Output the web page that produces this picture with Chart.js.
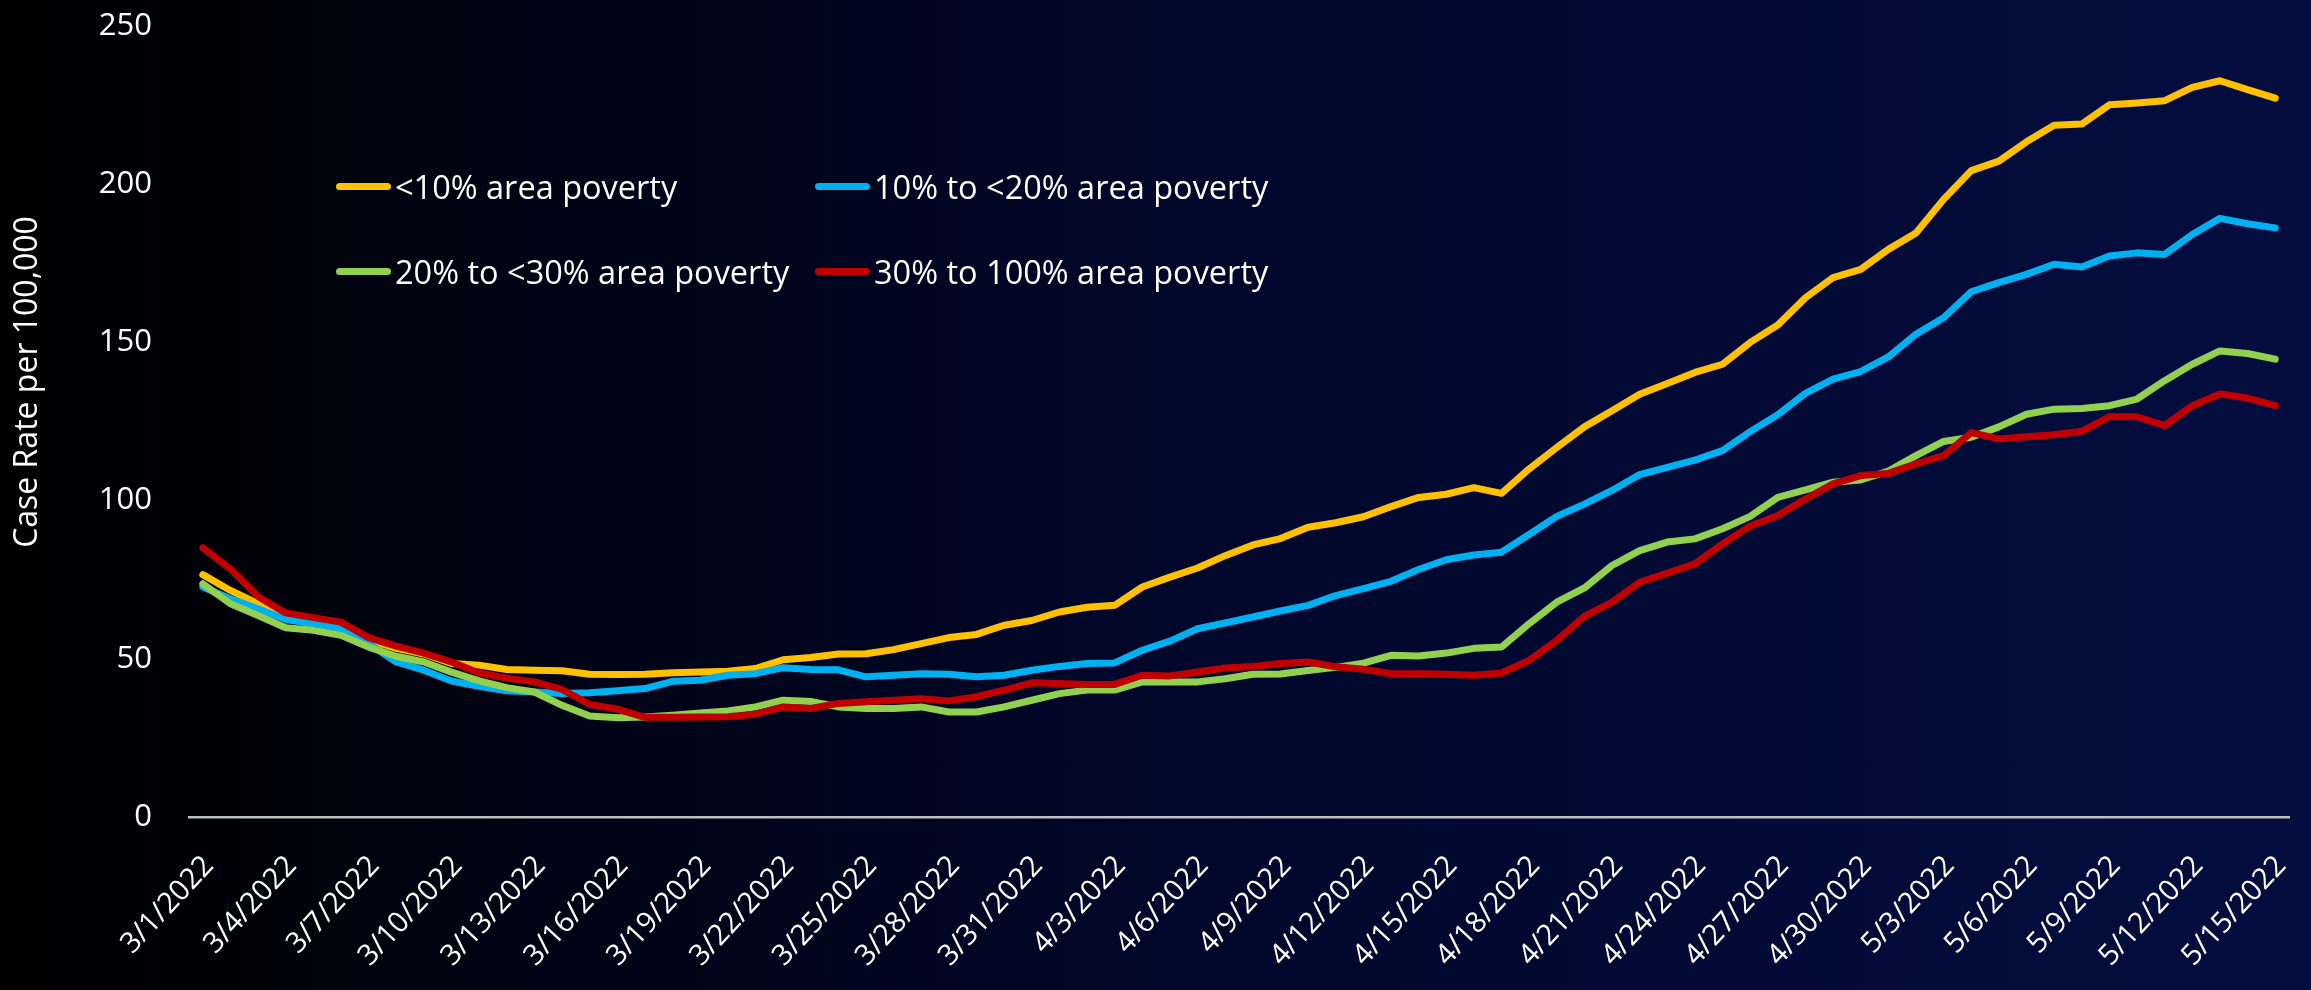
<!DOCTYPE html>
<html>
<head>
<meta charset="utf-8">
<script src="https://cdn.jsdelivr.net/npm/chart.js@4.4.1/dist/chart.umd.min.js"></script>
<style>
  html, body { margin: 0; padding: 0; }
  body {
    width: 2311px; height: 990px; overflow: hidden; position: relative;
    background: linear-gradient(90deg, #000000 0%, #01072a 50%, #040d3f 100%);
    font-family: "Open Sans", sans-serif;
  }
  #chart { position: absolute; left: 0; top: 0; }
  .legend-item { position: absolute; display: flex; align-items: center; color: #fff; font-size: 32.5px; white-space: nowrap; }
  .legend-item .swatch { width: 55px; height: 7px; border-radius: 4px; margin-right: 4px; }
</style>
</head>
<body>
<canvas id="chart" width="2311" height="990"></canvas>
<div id="legend"></div>
<script>
// Dates on the category axis
const dates = [
  '3/1/2022','3/2/2022','3/3/2022','3/4/2022','3/5/2022','3/6/2022','3/7/2022','3/8/2022','3/9/2022','3/10/2022',
  '3/11/2022','3/12/2022','3/13/2022','3/14/2022','3/15/2022','3/16/2022','3/17/2022','3/18/2022','3/19/2022','3/20/2022',
  '3/21/2022','3/22/2022','3/23/2022','3/24/2022','3/25/2022','3/26/2022','3/27/2022','3/28/2022','3/29/2022','3/30/2022',
  '3/31/2022','4/1/2022','4/2/2022','4/3/2022','4/4/2022','4/5/2022','4/6/2022','4/7/2022','4/8/2022','4/9/2022',
  '4/10/2022','4/11/2022','4/12/2022','4/13/2022','4/14/2022','4/15/2022','4/16/2022','4/17/2022','4/18/2022','4/19/2022',
  '4/20/2022','4/21/2022','4/22/2022','4/23/2022','4/24/2022','4/25/2022','4/26/2022','4/27/2022','4/28/2022','4/29/2022',
  '4/30/2022','5/1/2022','5/2/2022','5/3/2022','5/4/2022','5/5/2022','5/6/2022','5/7/2022','5/8/2022','5/9/2022',
  '5/10/2022','5/11/2022','5/12/2022','5/13/2022','5/14/2022','5/15/2022'
];

// Case rate per 100,000 by area poverty level
const under10 = [
  76.6, 71.6, 67.4, 63.5, 62.0, 60.3, 56.0, 53.3, 51.5, 48.5,
  48.0, 46.6, 46.4, 46.2, 45.1, 45.0, 45.1, 45.6, 45.8, 46.1,
  46.9, 49.7, 50.4, 51.5, 51.6, 52.9, 54.8, 56.7, 57.7, 60.6,
  62.1, 64.8, 66.3, 66.9, 72.7, 75.8, 78.7, 82.6, 86.0, 88.0,
  91.6, 93.0, 94.9, 98.1, 101.0, 102.0, 104.1, 102.3, 110.0, 116.8,
  123.3, 128.4, 133.6, 137.0, 140.5, 143.1, 150.0, 155.5, 164.1, 170.5,
  173.1, 179.4, 184.6, 195.2, 204.3, 207.3, 213.4, 218.6, 219.0, 225.1,
  225.7, 226.4, 230.6, 232.7, 229.9, 227.2
];
const from10to20 = [
  72.7, 69.0, 65.8, 62.4, 61.1, 59.5, 54.8, 49.0, 46.4, 43.0,
  41.3, 39.9, 39.5, 39.0, 39.3, 39.9, 40.6, 42.9, 43.2, 44.8,
  45.3, 47.2, 46.6, 46.5, 44.3, 44.8, 45.3, 45.1, 44.3, 44.8,
  46.4, 47.6, 48.5, 48.7, 52.7, 55.6, 59.5, 61.3, 63.2, 65.1,
  66.9, 70.0, 72.2, 74.5, 78.2, 81.3, 82.8, 83.7, 89.3, 95.0,
  98.9, 103.2, 108.2, 110.5, 112.8, 115.8, 121.8, 127.1, 133.9, 138.4,
  140.8, 145.4, 152.6, 157.8, 166.0, 168.9, 171.5, 174.7, 173.8, 177.3,
  178.3, 177.8, 184.1, 189.2, 187.5, 186.2
];
const from20to30 = [
  73.7, 67.4, 63.7, 59.8, 59.0, 57.4, 53.7, 50.8, 49.0, 45.8,
  43.0, 40.9, 39.5, 35.3, 31.9, 31.4, 31.6, 32.2, 32.9, 33.5,
  34.8, 36.9, 36.5, 34.8, 34.3, 34.3, 34.8, 33.2, 33.2, 34.8,
  36.9, 39.0, 40.1, 40.1, 42.7, 42.7, 42.7, 43.7, 45.1, 45.2,
  46.3, 47.3, 48.6, 51.1, 50.9, 51.8, 53.3, 53.7, 61.1, 67.9,
  72.4, 79.5, 84.2, 86.9, 87.9, 91.1, 95.0, 101.0, 103.4, 105.8,
  106.5, 109.3, 114.2, 118.7, 120.0, 123.3, 127.3, 128.9, 129.1, 130.0,
  132.1, 137.9, 143.1, 147.3, 146.5, 144.7
];
const from30to100 = [
  85.1, 78.4, 69.7, 64.5, 63.0, 61.6, 56.7, 54.0, 51.8, 49.0,
  45.5, 43.9, 42.7, 40.3, 35.6, 34.1, 31.5, 31.5, 31.6, 31.7,
  32.5, 34.8, 34.3, 35.9, 36.4, 36.9, 37.4, 36.7, 38.0, 40.1,
  42.4, 42.2, 41.9, 41.9, 44.8, 44.6, 45.8, 47.1, 47.6, 48.5,
  49.0, 47.5, 46.7, 45.3, 45.3, 45.1, 44.8, 45.5, 49.5, 55.8,
  63.4, 67.9, 74.2, 77.1, 80.0, 86.3, 92.0, 95.3, 100.5, 105.3,
  107.9, 108.6, 111.6, 114.2, 121.5, 119.5, 120.2, 120.8, 121.9, 126.5,
  126.5, 123.7, 130.0, 133.7, 132.4, 130.0
];

const seriesNames = ['<10% area poverty', '10% to <20% area poverty', '20% to <30% area poverty', '30% to 100% area poverty'];
const seriesColors = ['#FFC000', '#00B0F0', '#92D050', '#C00000'];
const yTicks = [0, 50, 100, 150, 200, 250];

const FONT = '"Open Sans", sans-serif';

// Legend sits inside the plot, two columns
const legendPos = [[336, 186], [815, 186], [336, 271], [815, 271]];
const legendEl = document.getElementById('legend');
seriesNames.forEach((name, i) => {
  const item = document.createElement('div');
  item.className = 'legend-item';
  item.style.left = legendPos[i][0] + 'px';
  item.style.top = (legendPos[i][1] - 22) + 'px';
  item.style.height = '44px';
  item.innerHTML = `<span class="swatch" style="background:${seriesColors[i]}"></span><span>${name}</span>`;
  legendEl.appendChild(item);
});

// y axis title drawn a little above the plot's middle, like the original
const yTitlePlugin = {
  id: 'yTitle',
  afterDraw(chart) {
    const c = chart.ctx;
    c.save();
    c.translate(28, 382);
    c.rotate(-Math.PI / 2);
    c.fillStyle = '#ffffff';
    c.font = '32px ' + FONT;
    c.textAlign = 'center';
    c.textBaseline = 'middle';
    c.fillText('Case Rate per 100,000', 0, 0);
    c.restore();
  }
};

const datasets = [under10, from10to20, from20to30, from30to100].map((data, i) => ({
  label: seriesNames[i],
  data: data,
  borderColor: seriesColors[i],
  backgroundColor: seriesColors[i],
  borderWidth: 7,
  borderCapStyle: 'round',
  borderJoinStyle: 'round',
  pointRadius: 0,
  tension: 0,
  order: 4 - i
}));

const ctx = document.getElementById('chart').getContext('2d');
const chart = new Chart(ctx, {
  type: 'line',
  data: { labels: dates, datasets: datasets },
  plugins: [yTitlePlugin],
  options: {
    responsive: false,
    animation: false,
    devicePixelRatio: 1,
    layout: { padding: { top: 26, right: 22, left: 0, bottom: 0 } },
    plugins: {
      legend: { display: false },
      tooltip: { enabled: false }
    },
    scales: {
      x: {
        offset: true,
        grid: { display: false, drawTicks: false },
        border: { display: true, color: '#BFBFBF', width: 2.5 },
        ticks: {
          color: '#ffffff',
          font: { family: FONT, size: 29 },
          autoSkip: false,
          minRotation: 47,
          maxRotation: 47,
          padding: 32,
          labelOffset: 6,
          callback: function(value, index) {
            return index % 3 === 0 ? dates[index] : '';
          }
        },
        afterFit: function(scale) {
          scale.height = 173;
          scale.paddingLeft = 0;
          scale.paddingRight = 0;
        }
      },
      y: {
        min: 0,
        max: 250,
        afterBuildTicks: function(scale) {
          scale.ticks = yTicks.map(v => ({ value: v }));
        },
        grid: { display: false, drawTicks: false },
        border: { display: false },
        ticks: {
          color: '#ffffff',
          font: { family: FONT, size: 31 },
          padding: 37
        },
        afterFit: function(scale) {
          scale.width = 189;
          scale.paddingTop = 0;
          scale.paddingBottom = 0;
        }
      }
    }
  }
});
</script>
</body>
</html>
